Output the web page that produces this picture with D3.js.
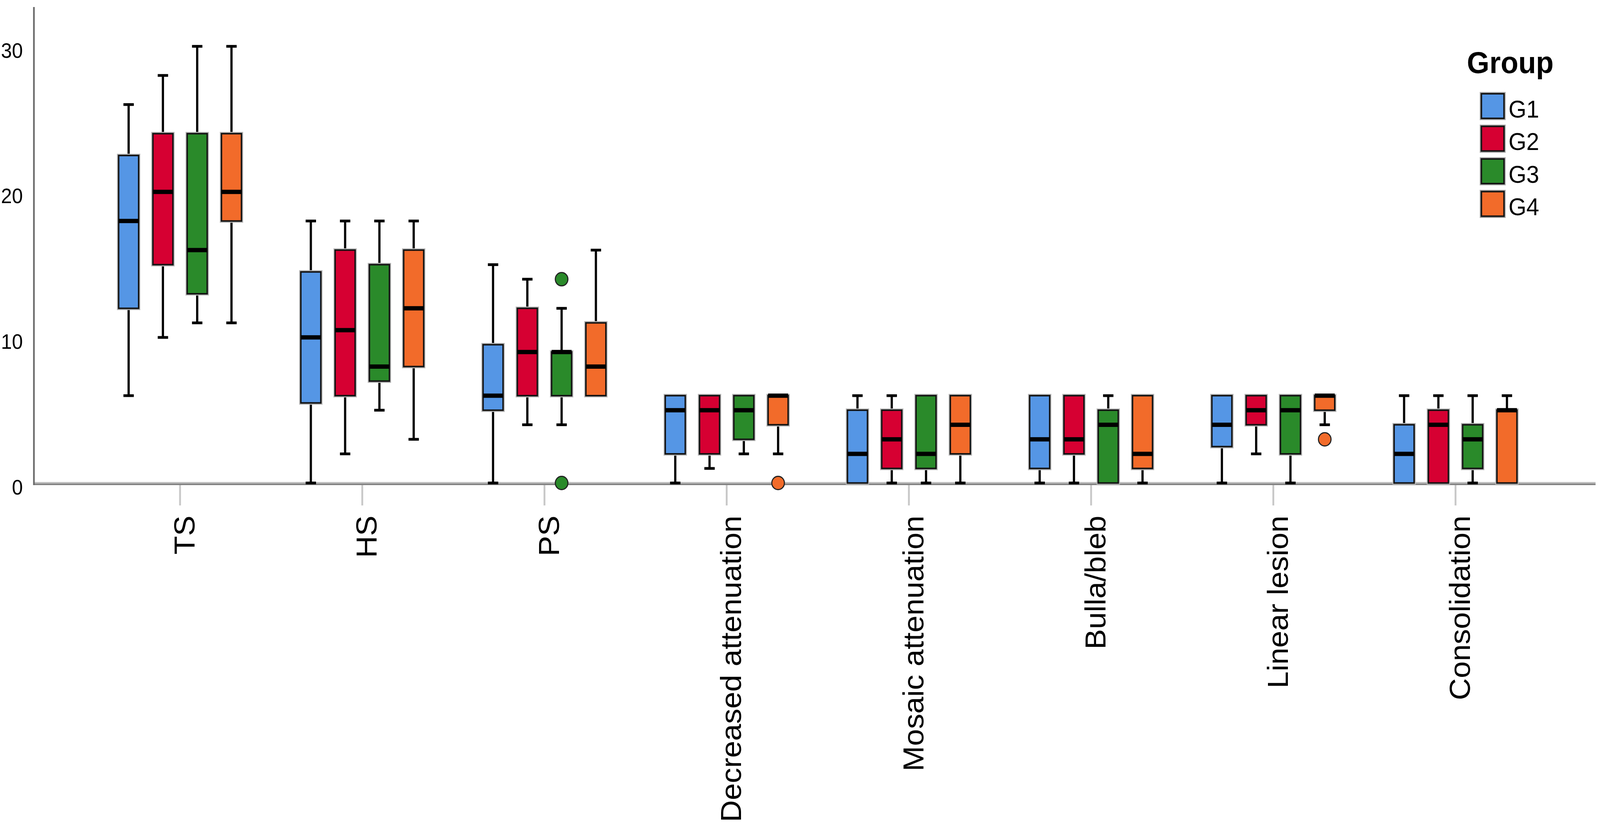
<!DOCTYPE html>
<html>
<head>
<meta charset="utf-8">
<script src="https://cdn.jsdelivr.net/npm/d3@7"></script>
<style>
  html, body { margin: 0; padding: 0; background: #fff; overflow: hidden; }
  svg { display: block; width: 100vw; height: 100vh; font-family: "Liberation Sans", Arial, sans-serif; }
</style>
</head>
<body>
<svg viewBox="0 0 4317 2107" preserveAspectRatio="none"></svg>
<script>
// categories on the x axis and the grouping variable
const categories = ["TS", "HS", "PS", "Decreased attenuation", "Mosaic attenuation",
  "Bulla/bleb", "Linear lesion", "Consolidation"];
const groups = ["G1", "G2", "G3", "G4"];
const groupColors = ["#5596e5", "#d60032", "#2a8a2a", "#f26b2a"];

// five-number summaries per category: [min, Q1, median, Q3, max]
const g1Stats = [
  [6, 12, 18, 22.5, 26], [0, 5.5, 10, 14.5, 18], [0, 5, 6, 9.5, 15], [0, 2, 5, 6, 6],
  [0, 0, 2, 5, 6], [0, 1, 3, 6, 6], [0, 2.5, 4, 6, 6], [0, 0, 2, 4, 6]
];
const g2Stats = [
  [10, 15, 20, 24, 28], [2, 6, 10.5, 16, 18], [4, 6, 9, 12, 14], [1, 2, 5, 6, 6],
  [0, 1, 3, 5, 6], [0, 2, 3, 6, 6], [2, 4, 5, 6, 6], [0, 0, 4, 5, 6]
];
const g3Stats = [
  [11, 13, 16, 24, 30], [5, 7, 8, 15, 18], [4, 6, 9, 9, 12], [2, 3, 5, 6, 6],
  [0, 1, 2, 6, 6], [0, 0, 4, 5, 6], [0, 2, 5, 6, 6], [0, 1, 3, 4, 6]
];
const g4Stats = [
  [11, 18, 20, 24, 30], [3, 8, 12, 16, 18], [6, 6, 8, 11, 16], [2, 4, 6, 6, 6],
  [0, 2, 4, 6, 6], [0, 1, 2, 6, 6], [4, 5, 6, 6, 6], [0, 0, 5, 5, 6]
];

// outliers: [category, group, value]
const outliers = [
  ["PS", "G3", 14], ["PS", "G3", 0],
  ["Decreased attenuation", "G4", 0],
  ["Linear lesion", "G4", 3]
];

const yTicks = [0, 10, 20, 30];

const svg = d3.select("svg");
const statsByGroup = [g1Stats, g2Stats, g3Stats, g4Stats];

// scales
const x = d3.scaleBand().domain(categories).range([240, 4173]);
const xg = d3.scaleBand().domain(groups).range([-185, 185]);
const y = d3.scaleLinear().domain([0, 32.7]).range([1236.5, 18]);
const color = d3.scaleOrdinal().domain(groups).range(groupColors);

const axisLeftX = 91.5, axisBottomY = 1238;
const boxW = 54, capW = 28;

// flatten into box records
const boxes = [];
groups.forEach((g, gi) => {
  statsByGroup[gi].forEach((s, ci) => {
    boxes.push({ cat: categories[ci], group: g,
      min: s[0], q1: s[1], med: s[2], q3: s[3], max: s[4] });
  });
});
const cx = (d) => x(d.cat) + x.bandwidth() / 2 + xg(d.group) + xg.bandwidth() / 2;

// x axis ticks + rotated labels
const xAxisG = svg.append("g")
  .attr("transform", `translate(0,${axisBottomY})`)
  .call(d3.axisBottom(x).tickSize(56).tickPadding(0));
xAxisG.select(".domain").remove();
xAxisG.selectAll(".tick line").attr("stroke", "#c8c8c8").attr("stroke-width", 5);
xAxisG.selectAll(".tick text")
  .attr("x", 0).attr("y", 0).attr("dy", 0)
  .attr("transform", "translate(39,82) rotate(-90)")
  .attr("text-anchor", "end")
  .attr("fill", "#000")
  .style("font-size", "78px");

// axis lines
svg.append("line")
  .attr("x1", axisLeftX).attr("x2", 4305)
  .attr("y1", axisBottomY - 2).attr("y2", axisBottomY - 2)
  .attr("stroke", "#bdbdbd").attr("stroke-width", 4);
svg.append("line")
  .attr("x1", axisLeftX).attr("x2", 4305)
  .attr("y1", axisBottomY + 2).attr("y2", axisBottomY + 2)
  .attr("stroke", "#848484").attr("stroke-width", 4);

const yAxisG = svg.append("g")
  .attr("transform", `translate(${axisLeftX},0)`)
  .call(d3.axisLeft(y).tickValues(yTicks).tickSize(0).tickPadding(30));
yAxisG.select(".domain").remove();
yAxisG.selectAll(".tick text")
  .attr("y", 10).attr("dy", "0.35em")
  .attr("fill", "#000")
  .style("font-size", "53px");
svg.append("line")
  .attr("x1", axisLeftX).attr("x2", axisLeftX)
  .attr("y1", 18).attr("y2", axisBottomY + 4)
  .attr("stroke", "#6b6b6b").attr("stroke-width", 4.5);

// whiskers
const plot = svg.append("g");
plot.selectAll(".whisker")
  .data(boxes)
  .join("line")
  .attr("class", "whisker")
  .attr("x1", cx).attr("x2", cx)
  .attr("y1", (d) => y(d.min)).attr("y2", (d) => y(d.max))
  .attr("stroke", "#000").attr("stroke-width", 6);

["min", "max"].forEach((k) => {
  plot.selectAll(".cap-" + k)
    .data(boxes)
    .join("line")
    .attr("class", "cap-" + k)
    .attr("x1", (d) => cx(d) - capW / 2).attr("x2", (d) => cx(d) + capW / 2)
    .attr("y1", (d) => y(d[k])).attr("y2", (d) => y(d[k]))
    .attr("stroke", "#000").attr("stroke-width", 7);
});

// boxes with a soft grey halo
plot.selectAll(".halo")
  .data(boxes)
  .join("rect")
  .attr("class", "halo")
  .attr("x", (d) => cx(d) - boxW / 2)
  .attr("y", (d) => y(d.q3))
  .attr("width", boxW)
  .attr("height", (d) => y(d.q1) - y(d.q3))
  .attr("fill", "none")
  .attr("stroke", "#b8b8b8").attr("stroke-width", 9);

plot.selectAll(".box")
  .data(boxes)
  .join("rect")
  .attr("class", "box")
  .attr("x", (d) => cx(d) - boxW / 2)
  .attr("y", (d) => y(d.q3))
  .attr("width", boxW)
  .attr("height", (d) => y(d.q1) - y(d.q3))
  .attr("fill", (d) => color(d.group))
  .attr("stroke", "#141414").attr("stroke-width", 4);

// medians
plot.selectAll(".median")
  .data(boxes)
  .join("line")
  .attr("class", "median")
  .attr("x1", (d) => cx(d) - boxW / 2).attr("x2", (d) => cx(d) + boxW / 2)
  .attr("y1", (d) => y(d.med)).attr("y2", (d) => y(d.med))
  .attr("stroke", "#000").attr("stroke-width", 11);

// outliers
plot.selectAll(".outlier")
  .data(outliers)
  .join("circle")
  .attr("class", "outlier")
  .attr("cx", (d) => cx({ cat: d[0], group: d[1] }))
  .attr("cy", (d) => y(d[2]))
  .attr("r", 17)
  .attr("fill", (d) => color(d[1]))
  .attr("stroke", "#222").attr("stroke-width", 3);

// legend
const legend = svg.append("g");
legend.append("text")
  .attr("x", 3958).attr("y", 187)
  .style("font-size", "78px").style("font-weight", "bold")
  .text("Group");

const items = legend.selectAll(".item")
  .data(groups)
  .join("g")
  .attr("class", "item")
  .attr("transform", (d, i) => `translate(3997,${240 + i * 83.5})`);
items.append("rect")
  .attr("width", 61).attr("height", 63)
  .attr("fill", "none").attr("stroke", "#a8a8a8").attr("stroke-width", 9);
items.append("rect")
  .attr("width", 61).attr("height", 63)
  .attr("fill", (d) => color(d))
  .attr("stroke", "#141414").attr("stroke-width", 4);
items.append("text")
  .attr("x", 73).attr("y", 61)
  .style("font-size", "62px")
  .text((d) => d);
</script>
</body>
</html>
